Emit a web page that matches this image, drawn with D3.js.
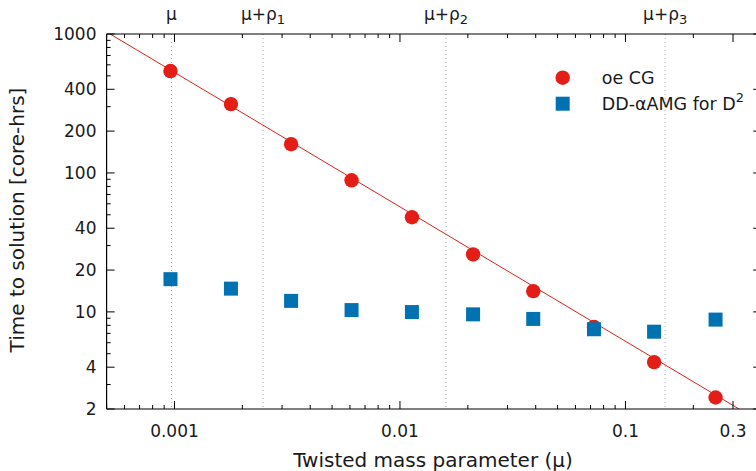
<!DOCTYPE html>
<html>
<head>
<meta charset="utf-8">
<script src="https://cdn.jsdelivr.net/npm/d3@7"></script>
<style>
  html, body { margin: 0; padding: 0; background: #fff; }
  svg { display: block; font-family: "DejaVu Sans", sans-serif; }
</style>
</head>
<body>
<svg id="chart" width="756" height="471"></svg>
<script>
// ---- data ----
const mu = [0.00096, 0.00178, 0.00329, 0.0061, 0.0113, 0.0211, 0.039, 0.0725, 0.134, 0.251];
const oeCG = [541, 313, 161, 88.5, 48, 25.9, 14.1, 7.8, 4.35, 2.42];
const ddAMG = [17.2, 14.7, 12.0, 10.3, 9.97, 9.6, 8.9, 7.5, 7.2, 8.8];
const fitMu = [0.000518, 0.319];
const fitT = [1000, 2];
const refMu = [0.00097, 0.00247, 0.016, 0.150];
const refBase = ["μ", "μ+ρ", "μ+ρ", "μ+ρ"];
const refSub = ["", "1", "2", "3"];
const xTickVals = [0.001, 0.01, 0.1, 0.3];
const xTickLabels = ["0.001", "0.01", "0.1", "0.3"];
const yTickVals = [2, 4, 10, 20, 40, 100, 200, 400, 1000];
const yTickLabels = ["2", "4", "10", "20", "40", "100", "200", "400", "1000"];
const seriesNames = ["oe CG", "DD-αAMG for D"];

const RED = "#e41e17";
const BLUE = "#0072b2";

const svg = d3.select("#chart");
const x = d3.scaleLog().domain([0.0005, 0.4]).range([106.6, 761.2]);
const y = d3.scaleLog().domain([2, 1000]).range([409, 34]);
const X0 = x.range()[0], X1 = x.range()[1], Y0 = y.range()[0], Y1 = y.range()[1];

svg.append("defs").append("clipPath").attr("id", "plotclip")
  .append("rect").attr("x", X0).attr("y", Y1).attr("width", X1 - X0).attr("height", Y0 - Y1);

// reference dotted lines
svg.append("g").selectAll("line").data(refMu).join("line")
  .attr("x1", d => x(d)).attr("x2", d => x(d))
  .attr("y1", Y1).attr("y2", Y0)
  .attr("stroke", "#aaa").attr("stroke-width", 1)
  .attr("stroke-dasharray", "1,3");

// top labels
const tl = svg.append("g").selectAll("text").data(refMu).join("text")
  .attr("x", d => x(d)).attr("y", 20)
  .attr("text-anchor", "middle")
  .attr("font-size", 17).attr("fill", "#1a1a1a");
tl.append("tspan").text((d, i) => refBase[i]);
tl.append("tspan").attr("font-size", 13).attr("dy", 4).text((d, i) => refSub[i]);

// fit line
const fitData = fitMu.map((m, i) => ({ m, t: fitT[i] }));
svg.append("path").datum(fitData)
  .attr("clip-path", "url(#plotclip)")
  .attr("d", d3.line().x(d => x(d.m)).y(d => y(d.t)))
  .attr("stroke", RED).attr("stroke-width", 1).attr("fill", "none");

// circles
const circData = mu.map((m, i) => ({ m, t: oeCG[i] }));
svg.append("g").selectAll("circle").data(circData).join("circle")
  .attr("cx", d => x(d.m)).attr("cy", d => y(d.t)).attr("r", 7.2)
  .attr("fill", RED);

// squares
const sqData = mu.map((m, i) => ({ m, t: ddAMG[i] }));
const S = 14;
svg.append("g").selectAll("rect").data(sqData).join("rect")
  .attr("x", d => x(d.m) - S / 2).attr("y", d => y(d.t) - S / 2)
  .attr("width", S).attr("height", S)
  .attr("fill", BLUE);

// axes frame
const frame = svg.append("g").attr("stroke", "#000").attr("stroke-width", 1.2);
frame.append("line").attr("x1", X0).attr("x2", X1).attr("y1", Y0).attr("y2", Y0);
frame.append("line").attr("x1", X0).attr("x2", X1).attr("y1", Y1).attr("y2", Y1);
frame.append("line").attr("x1", X0).attr("x2", X0).attr("y1", Y1).attr("y2", Y0);
frame.append("line").attr("x1", X1).attr("x2", X1).attr("y1", Y1).attr("y2", Y0);

// x ticks
const xMinor = [];
[-4, -3, -2, -1].forEach(k => {
  for (let n = 1; n <= 9; n++) {
    const v = n * Math.pow(10, k);
    if (v >= 0.0005 * 0.999 && v <= 0.4 && !xTickVals.some(t => Math.abs(t - v) / v < 1e-6)) xMinor.push(v);
  }
});
const tg = svg.append("g").attr("stroke", "#000").attr("stroke-width", 1);
xMinor.forEach(v => {
  tg.append("line").attr("x1", x(v)).attr("x2", x(v)).attr("y1", Y0).attr("y2", Y0 - 4);
  tg.append("line").attr("x1", x(v)).attr("x2", x(v)).attr("y1", Y1).attr("y2", Y1 + 4);
});
xTickVals.forEach(v => {
  tg.append("line").attr("x1", x(v)).attr("x2", x(v)).attr("y1", Y0).attr("y2", Y0 - 8);
  tg.append("line").attr("x1", x(v)).attr("x2", x(v)).attr("y1", Y1).attr("y2", Y1 + 8);
});
svg.append("g").selectAll("text").data(xTickVals).join("text")
  .attr("x", d => x(d)).attr("y", 437)
  .attr("text-anchor", "middle").attr("font-size", 17).attr("fill", "#1a1a1a")
  .text((d, i) => xTickLabels[i]);

// y ticks
const yMinor = [];
[0, 1, 2].forEach(k => {
  for (let n = 1; n <= 9; n++) {
    const v = n * Math.pow(10, k);
    if (v >= 2 && v <= 1000 && !yTickVals.includes(v)) yMinor.push(v);
  }
});
yMinor.forEach(v => {
  tg.append("line").attr("x1", X0).attr("x2", X0 + 4).attr("y1", y(v)).attr("y2", y(v));
  tg.append("line").attr("x1", X1).attr("x2", X1 - 4).attr("y1", y(v)).attr("y2", y(v));
});
yTickVals.forEach(v => {
  tg.append("line").attr("x1", X0).attr("x2", X0 + 8).attr("y1", y(v)).attr("y2", y(v));
  tg.append("line").attr("x1", X1).attr("x2", X1 - 8).attr("y1", y(v)).attr("y2", y(v));
});
svg.append("g").selectAll("text").data(yTickVals).join("text")
  .attr("x", 96.5).attr("y", d => y(d) + 6)
  .attr("text-anchor", "end").attr("font-size", 17).attr("fill", "#1a1a1a")
  .text((d, i) => yTickLabels[i]);

// axis titles
svg.append("text").attr("x", 433).attr("y", 467)
  .attr("text-anchor", "middle").attr("font-size", 20).attr("fill", "#1a1a1a")
  .text("Twisted mass parameter (μ)");
svg.append("text").attr("transform", "translate(24,220) rotate(-90)")
  .attr("text-anchor", "middle").attr("font-size", 20).attr("fill", "#1a1a1a")
  .text("Time to solution [core-hrs]");

// legend
const lg = svg.append("g");
lg.append("circle").attr("cx", 562.7).attr("cy", 77.7).attr("r", 7.2).attr("fill", RED);
lg.append("rect").attr("x", 562.7 - S / 2).attr("y", 103.7 - S / 2).attr("width", S).attr("height", S).attr("fill", BLUE);
lg.append("text").attr("x", 601.7).attr("y", 83.8).attr("font-size", 17.5).attr("fill", "#1a1a1a").text(seriesNames[0]);
const t2 = lg.append("text").attr("x", 601.7).attr("y", 110).attr("font-size", 17.5).attr("fill", "#1a1a1a");
t2.append("tspan").text(seriesNames[1]);
t2.append("tspan").attr("font-size", 13).attr("dy", -8).text("2");
</script>
</body>
</html>
